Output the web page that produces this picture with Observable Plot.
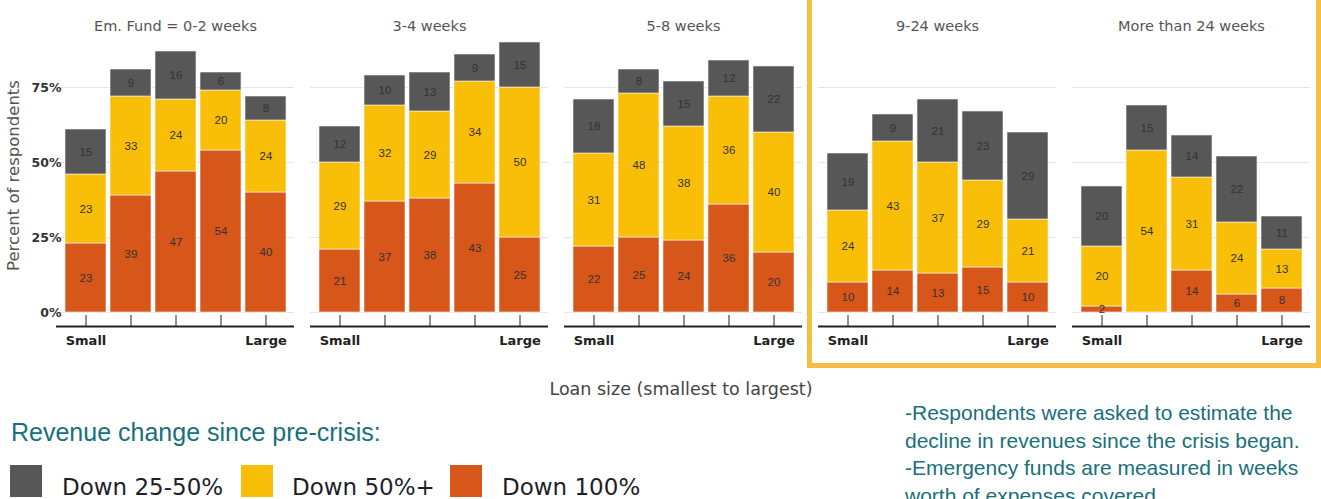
<!DOCTYPE html>
<html>
<head>
<meta charset="utf-8">
<script src="https://cdn.jsdelivr.net/npm/d3@7"></script>
<script src="https://cdn.jsdelivr.net/npm/@observablehq/plot@0.6"></script>
<style>
  html, body { margin: 0; padding: 0; background: #fff; }
  body { width: 1321px; height: 499px; position: relative; overflow: hidden; }
  #chart { position: absolute; left: 0; top: 0; }
  .abs { position: absolute; white-space: nowrap; }
  .box { position: absolute; left: 807px; top: -10px; width: 514px; height: 378px; box-sizing: border-box; border: 5px solid #F5BE41; pointer-events: none; }
  .xlabel { font-family: "DejaVu Sans"; font-size: 17.5px; color: #444; line-height: 1; }
  .legtitle { font-family: "Liberation Sans"; font-size: 25px; color: #17707C; line-height: 1; }
  .sw { position: absolute; width: 32px; height: 32px; }
  .legtext { font-family: "DejaVu Sans"; font-size: 23px; color: #1e1e2a; line-height: 1; }
  .notes { font-family: "Liberation Sans"; font-size: 21px; color: #17707C; line-height: 27.5px; }
</style>
</head>
<body>
<div id="chart"></div>
<div class="box"></div>
<div id="extras"></div>
<script>
// ---- Data ----
const panels = ["Em. Fund = 0-2 weeks", "3-4 weeks", "5-8 weeks", "9-24 weeks", "More than 24 weeks"];
const loanSizes = [1, 2, 3, 4, 5];
const loanSizeLabels = ["Small", "", "", "", "Large"];
const seriesNames = ["Down 100%", "Down 50%+", "Down 25-50%"];
const seriesColors = ["#D7561A", "#F9BF08", "#575757"];
const legendOrder = ["Down 25-50%", "Down 50%+", "Down 100%"];
const yTicks = [0, 25, 50, 75];

// rows = panels, columns = loan sizes (smallest to largest)
const down100 = [
  [23, 39, 47, 54, 40],
  [21, 37, 38, 43, 25],
  [22, 25, 24, 36, 20],
  [10, 14, 13, 15, 10],
  [2, 0, 14, 6, 8]
];
const down50plus = [
  [23, 33, 24, 20, 24],
  [29, 32, 29, 34, 50],
  [31, 48, 38, 36, 40],
  [24, 43, 37, 29, 21],
  [20, 54, 31, 24, 13]
];
const down25to50 = [
  [15, 9, 16, 6, 8],
  [12, 10, 13, 9, 15],
  [18, 8, 15, 12, 22],
  [19, 9, 21, 23, 29],
  [20, 15, 14, 22, 11]
];

const xAxisLabel = "Loan size (smallest to largest)";
const yAxisLabel = "Percent of respondents";
const legendTitle = "Revenue change since pre-crisis:";
const notes = [
  "-Respondents were asked to estimate the",
  "decline in revenues since the crisis began.",
  "-Emergency funds are measured in weeks",
  "worth of expenses covered."
];

// ---- Build table ----
const seriesData = [down100, down50plus, down25to50];
const rows = [];
panels.forEach((p, pi) => {
  loanSizes.forEach((s, si) => {
    seriesNames.forEach((name, k) => {
      rows.push({panel: p, size: s, series: name, value: seriesData[k][pi][si]});
    });
  });
});

const chart = Plot.plot({
  width: 1321,
  height: 372,
  marginTop: 12,
  marginBottom: 60,
  marginLeft: 56,
  marginRight: 11,
  style: {fontFamily: "DejaVu Sans", background: "white", overflow: "visible"},
  fx: {domain: panels, paddingInner: 0.063, paddingOuter: 0, axis: null},
  x: {domain: loanSizes, paddingInner: 0.1, paddingOuter: 0.15, axis: null},
  y: {domain: [0, 100], axis: null},
  color: {domain: seriesNames, range: seriesColors},
  marks: [
    Plot.gridY({ticks: yTicks, stroke: "#e6e6e6", strokeOpacity: 1}),
    Plot.barY(rows, Plot.stackY({fx: "panel", x: "size", y: "value", fill: "series", stroke: "#f4f4f4", strokeWidth: 0.6})),
    Plot.text(rows.filter(d => d.value > 0), Plot.stackY({
      fx: "panel", x: "size", y: "value", text: d => String(d.value),
      fill: "#333", fontSize: 11.5, fontFamily: "Liberation Sans"
    })),
    Plot.text(panels, {fx: d => d, text: d => d, frameAnchor: "top", dy: 8, fontSize: 14.5, fill: "#555"}),
    Plot.text([yAxisLabel], {fx: [panels[0]], text: d => d, frameAnchor: "left", textAnchor: "middle", rotate: -90, dx: -43, dy: 13, fontSize: 16.5, fill: "#555"}),
    Plot.axisY({ticks: yTicks, tickSize: 0, tickFormat: d => d + "%", dx: 14, fontWeight: "bold", fontSize: 12.5, color: "#333", label: null}),
    Plot.ruleY([0], {dy: 14, stroke: "#222", strokeWidth: 2}),
    Plot.axisX({ticks: loanSizes, tickFormat: i => loanSizeLabels[i - 1], tickSize: 11, dy: 3, tickPadding: 9, fontWeight: "bold", fontSize: 13, color: "#222", label: null})
  ]
});
document.getElementById("chart").appendChild(chart);

// ---- Extras (HTML below / around the SVG) ----
const ex = document.getElementById("extras");
function add(cls, text, style) {
  const d = document.createElement("div");
  d.className = cls;
  if (text != null) d.textContent = text;
  Object.assign(d.style, style);
  ex.appendChild(d);
  return d;
}
add("abs xlabel", xAxisLabel, {top: "381px", left: "681px", transform: "translateX(-50%)"});
add("abs legtitle", legendTitle, {top: "420px", left: "11px"});
const swX = [10, 241, 450];
const txX = [62, 292, 502];
legendOrder.forEach((name, i) => {
  add("sw", null, {left: swX[i] + "px", top: "465px", background: seriesColors[seriesNames.indexOf(name)]});
  add("abs legtext", name, {left: txX[i] + "px", top: "476px"});
});
const n = add("abs notes", null, {left: "905px", top: "399px"});
n.innerHTML = notes.join("<br>");
</script>
</body>
</html>
